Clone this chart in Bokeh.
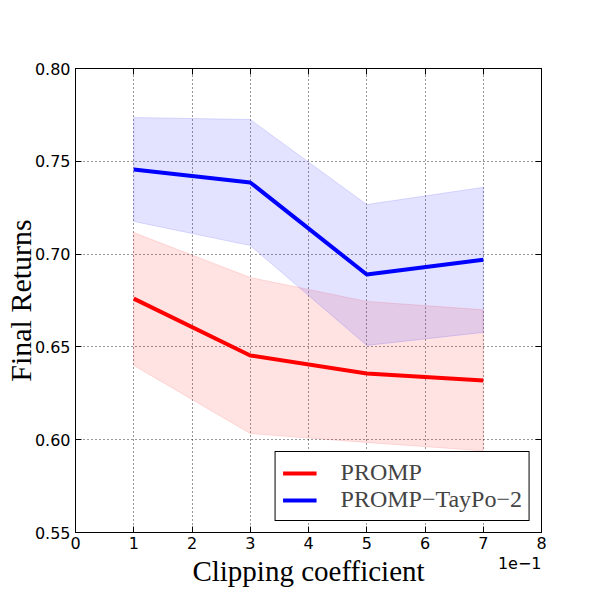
from bokeh.plotting import figure
from bokeh.models import (Range1d, FixedTicker, PrintfTickFormatter, LinearAxis,
                          Label, Legend, LegendItem)
from bokeh.embed import file_html
from bokeh.resources import INLINE

# Data (x in units of 1e-1)
clip = [1, 3, 5, 7]
promp_mean = [0.676, 0.6454, 0.6357, 0.6319]
promp_upper = [0.7116, 0.6874, 0.6745, 0.670]
promp_lower = [0.640, 0.6033, 0.5985, 0.594]
taypo_mean = [0.7456, 0.7386, 0.689, 0.697]
taypo_upper = [0.7736, 0.7725, 0.7267, 0.736]
taypo_lower = [0.7176, 0.7046, 0.6508, 0.6578]

x_ticks = [0, 1, 2, 3, 4, 5, 6, 7, 8]
y_ticks = [0.55, 0.60, 0.65, 0.70, 0.75, 0.80]

p = figure(frame_width=466, frame_height=464, output_backend="svg", toolbar_location=None,
           x_range=Range1d(0, 8), y_range=Range1d(0.55, 0.80),
           min_border_left=75, min_border_right=40, min_border_top=68,
           min_border_bottom=60)
p.background_fill_color = "white"
p.border_fill_color = "white"
p.outline_line_color = "black"
p.outline_line_width = 1

# bands
p.patch(clip + clip[::-1], promp_upper + promp_lower[::-1],
        fill_color="#ff0000", fill_alpha=0.11, line_color="#ff0000", line_alpha=0.12, line_width=1)
p.patch(clip + clip[::-1], taypo_upper + taypo_lower[::-1],
        fill_color="#0000ff", fill_alpha=0.11, line_color="#0000ff", line_alpha=0.12, line_width=1)

r1 = p.line(clip, promp_mean, line_color="#ff0000", line_width=4)
r2 = p.line(clip, taypo_mean, line_color="#0000ff", line_width=4)

# axes styling
for ax in [p.xaxis[0], p.yaxis[0]]:
    ax.major_tick_in = 6
    ax.major_tick_out = 0
    ax.minor_tick_in = 0
    ax.minor_tick_out = 0
    ax.axis_line_color = "black"
    ax.major_tick_line_color = "black"
    ax.major_label_text_font = "DejaVu Sans"
    ax.major_label_text_font_size = "16px"
    ax.major_label_text_color = "black"
    ax.axis_label_text_font = "Liberation Serif"
    ax.axis_label_text_font_style = "normal"
    ax.axis_label_text_color = "black"

p.xaxis[0].axis_label_text_font_size = "29px"
p.yaxis[0].axis_label_text_font_size = "30px"
p.xaxis[0].ticker = FixedTicker(ticks=x_ticks)
p.yaxis[0].ticker = FixedTicker(ticks=y_ticks)
p.yaxis[0].formatter = PrintfTickFormatter(format="%.2f")
p.xaxis[0].axis_label = "Clipping coefficient"
p.yaxis[0].axis_label = "Final Returns"
p.xaxis[0].major_label_standoff = 4
p.yaxis[0].major_label_standoff = 5
p.xaxis[0].axis_label_standoff = 3
p.yaxis[0].axis_label_standoff = -5

# top and right axes (ticks only, drawn as minor ticks so no labels exist)
top = LinearAxis(ticker=FixedTicker(ticks=[], minor_ticks=x_ticks), major_tick_in=0,
                 major_tick_out=0, minor_tick_in=6, minor_tick_out=0,
                 minor_tick_line_color="black", axis_line_color="black")
right = LinearAxis(ticker=FixedTicker(ticks=[], minor_ticks=y_ticks), major_tick_in=0,
                   major_tick_out=0, minor_tick_in=6, minor_tick_out=0,
                   minor_tick_line_color="black", axis_line_color="black")
p.add_layout(top, "above")
p.add_layout(right, "right")

p.grid.grid_line_color = "black"
p.grid.grid_line_alpha = 0.8
p.grid.grid_line_dash = "1 3"
p.grid.grid_line_width = 1
p.xgrid.ticker = FixedTicker(ticks=x_ticks)
p.ygrid.ticker = FixedTicker(ticks=y_ticks)

# offset text (outside the frame, in the bottom side panel)
p.add_layout(Label(x=8, y=0.5333, text="1e\u22121", text_align="right",
                   text_baseline="middle", text_font="DejaVu Sans",
                   text_font_size="16px", text_color="black"), "below")

legend = Legend(items=[LegendItem(label="PROMP", renderers=[r1]),
                       LegendItem(label="PROMP\u2212TayPo\u22122", renderers=[r2])],
                location="bottom_right")
legend.label_text_font = "Liberation Serif"
legend.label_text_font_size = "24px"
legend.border_line_color = "black"
legend.border_line_width = 1
legend.border_line_alpha = 1
legend.background_fill_alpha = 1
legend.glyph_width = 34
legend.glyph_height = 20
legend.label_height = 20
legend.label_standoff = 24
legend.padding = 7
legend.spacing = 0
legend.margin = 11
p.add_layout(legend)

open("out.html", "w").write(file_html(p, INLINE))
